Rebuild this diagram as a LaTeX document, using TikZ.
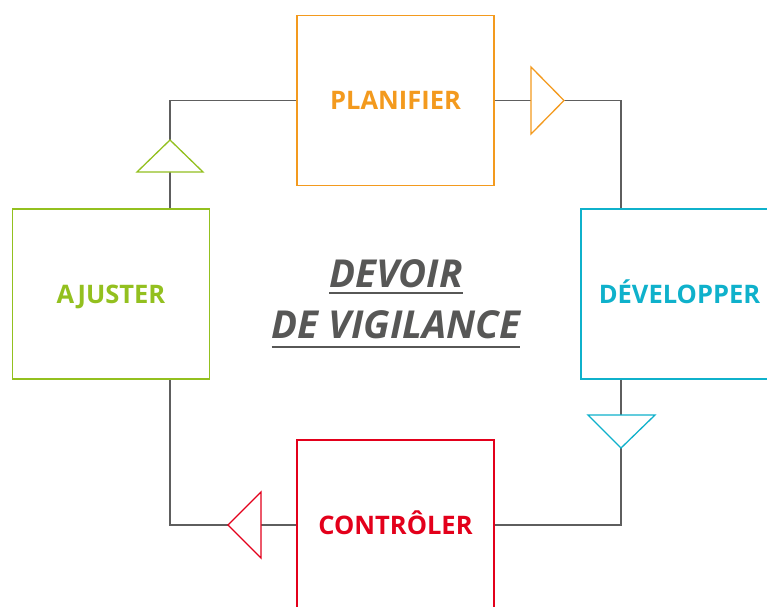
\documentclass[tikz,border=0pt]{standalone}
\usepackage{fontspec}
\setmainfont{Open Sans}
\usetikzlibrary{positioning}

\definecolor{planorange}{HTML}{F39A1E}
\definecolor{devcyan}{HTML}{0FB1CB}
\definecolor{ctrlred}{HTML}{E3001B}
\definecolor{ajgreen}{HTML}{93C01F}
\definecolor{linegray}{HTML}{5E5E5E}
\definecolor{titlegray}{HTML}{575756}

\begin{document}
\begin{tikzpicture}[x=1pt,y=-1pt,
  box/.style={draw, rectangle, line width=1.3pt, minimum width=197pt, minimum height=170pt,
    text height=18.2pt, text depth=0pt,
    font=\bfseries\fontsize{25.5}{28}\selectfont},
  link/.style={draw=linegray, line width=1.3pt},
  tri/.style={fill=white, line width=1.3pt, line join=miter},
  title/.style={inner sep=0pt, anchor=base, text=titlegray,
    font=\bfseries\itshape\fontsize{38.5}{42}\selectfont}]
\useasboundingbox (0,0) rectangle (767,606);
\node[box, draw=planorange, text=planorange] (plan) at (395.5,100.5) {PLANIFIER};
\node[box, draw=devcyan, text=devcyan] (dev) at (679.5,294) {DÉVELOPPER};
\node[box, draw=ctrlred, text=ctrlred] (ctrl) at (395.5,525) {CONTRÔLER};
\node[box, draw=ajgreen, text=ajgreen] (ajust) at (111,294) {AJUSTER};
% corners of the loop
\coordinate (tr) at (621,100.5);
\coordinate (br) at (621,525);
\coordinate (bl) at (170,525);
\coordinate (tl) at (170,100.5);
\draw[link] (plan.east) -- (tr) -- (tr |- dev.north);
\draw[link] (br |- dev.south) -- (br) -- (ctrl.east);
\draw[link] (ctrl.west) -- (bl) -- (bl |- ajust.south);
\draw[link] (tl |- ajust.north) -- (tl) -- (plan.west);
% direction marks
\draw[tri, draw=planorange] (531,67) -- (564,100.5) -- (531,134) -- cycle;
\draw[tri, draw=devcyan] (588,415) -- (655,415) -- (621,448) -- cycle;
\draw[tri, draw=ctrlred] (261,492) -- (228,525) -- (261,558) -- cycle;
\draw[tri, draw=ajgreen] (137,172) -- (203,172) -- (170,140) -- cycle;
% centre title
\node[title] (devoir) at (396,287) {DEVOIR};
\node[title] (vigil) at (396,338) {DE VIGILANCE};
\draw[titlegray, line width=2.2pt] ([yshift=-6pt]devoir.base west) -- ([yshift=-6pt]devoir.base east);
\draw[titlegray, line width=2.2pt] ([yshift=-9pt]vigil.base west) -- ([yshift=-9pt]vigil.base east);
\end{tikzpicture}
\end{document}
